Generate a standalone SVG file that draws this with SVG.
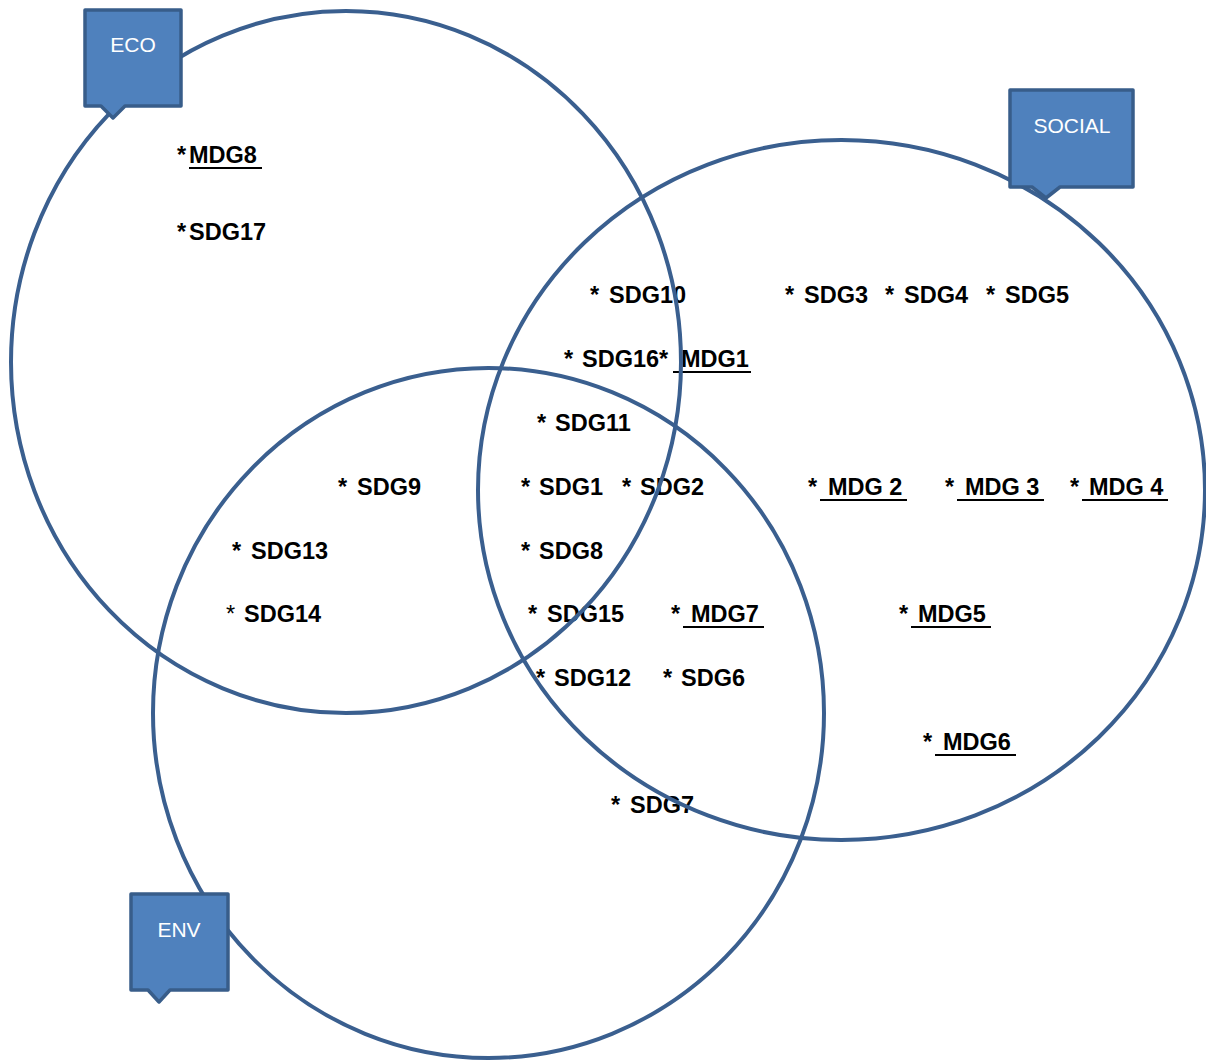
<svg xmlns="http://www.w3.org/2000/svg" width="1206" height="1062" viewBox="0 0 1206 1062">
<style>
  .lbl { font-family: "Liberation Sans", Arial, sans-serif; font-weight: bold; font-size: 23.5px; fill: #000; }
  .ul { stroke: #000; stroke-width: 2; }
  .ring { fill: none; stroke: #3A5F8F; stroke-width: 4; }
  .box { fill: #4F81BD; stroke: #385D8A; stroke-width: 3.5; stroke-linejoin: round; }
  .boxtxt { font-family: "Liberation Sans", Arial, sans-serif; font-size: 21px; fill: #fff; text-anchor: middle; }
</style>
<rect width="1206" height="1062" fill="#fff"/>

<g id="labels">
  <g id="mdg8"><text class="lbl" y="163"><tspan x="177">*</tspan><tspan x="189">MDG8</tspan></text><line class="ul" x1="189" y1="168" x2="262" y2="168"/></g>
  <g id="sdg17"><text class="lbl" y="240"><tspan x="177">*</tspan><tspan x="189">SDG17</tspan></text></g>
  <g id="sdg10"><text class="lbl" y="303"><tspan x="590">*</tspan><tspan x="609">SDG10</tspan></text></g>
  <g id="sdg3"><text class="lbl" y="303"><tspan x="785">*</tspan><tspan x="804">SDG3</tspan></text></g>
  <g id="sdg4"><text class="lbl" y="303"><tspan x="885">*</tspan><tspan x="904">SDG4</tspan></text></g>
  <g id="sdg5"><text class="lbl" y="303"><tspan x="986">*</tspan><tspan x="1005">SDG5</tspan></text></g>
  <g id="sdg16-mdg1"><text class="lbl" y="367"><tspan x="564">*</tspan><tspan x="582">SDG16*</tspan><tspan x="681">MDG1</tspan></text><line class="ul" x1="673" y1="372" x2="751" y2="372"/></g>
  <g id="sdg11"><text class="lbl" y="431"><tspan x="537">*</tspan><tspan x="555">SDG11</tspan></text></g>
  <g id="sdg9"><text class="lbl" y="495"><tspan x="338">*</tspan><tspan x="357">SDG9</tspan></text></g>
  <g id="sdg1"><text class="lbl" y="495"><tspan x="521">*</tspan><tspan x="539">SDG1</tspan></text></g>
  <g id="sdg2"><text class="lbl" y="495"><tspan x="622">*</tspan><tspan x="640">SDG2</tspan></text></g>
  <g id="mdg2"><text class="lbl" y="495"><tspan x="808">*</tspan><tspan x="828">MDG 2</tspan></text><line class="ul" x1="820" y1="500" x2="907" y2="500"/></g>
  <g id="mdg3"><text class="lbl" y="495"><tspan x="945">*</tspan><tspan x="965">MDG 3</tspan></text><line class="ul" x1="957" y1="500" x2="1044" y2="500"/></g>
  <g id="mdg4"><text class="lbl" y="495"><tspan x="1070">*</tspan><tspan x="1089">MDG 4</tspan></text><line class="ul" x1="1082" y1="500" x2="1168" y2="500"/></g>
  <g id="sdg13"><text class="lbl" y="559"><tspan x="232">*</tspan><tspan x="251">SDG13</tspan></text></g>
  <g id="sdg8"><text class="lbl" y="559"><tspan x="521">*</tspan><tspan x="539">SDG8</tspan></text></g>
  <g id="sdg14"><text class="lbl" y="622"><tspan x="226" font-weight="normal">*</tspan><tspan x="244">SDG14</tspan></text></g>
  <g id="sdg15"><text class="lbl" y="622"><tspan x="528">*</tspan><tspan x="547">SDG15</tspan></text></g>
  <g id="mdg7"><text class="lbl" y="622"><tspan x="671">*</tspan><tspan x="691">MDG7</tspan></text><line class="ul" x1="683" y1="627" x2="764" y2="627"/></g>
  <g id="mdg5"><text class="lbl" y="622"><tspan x="899">*</tspan><tspan x="918">MDG5</tspan></text><line class="ul" x1="911" y1="627" x2="991" y2="627"/></g>
  <g id="sdg12"><text class="lbl" y="686"><tspan x="536">*</tspan><tspan x="554">SDG12</tspan></text></g>
  <g id="sdg6"><text class="lbl" y="686"><tspan x="663">*</tspan><tspan x="681">SDG6</tspan></text></g>
  <g id="mdg6"><text class="lbl" y="750"><tspan x="923">*</tspan><tspan x="943">MDG6</tspan></text><line class="ul" x1="935" y1="755" x2="1016" y2="755"/></g>
  <g id="sdg7"><text class="lbl" y="813"><tspan x="611">*</tspan><tspan x="630">SDG7</tspan></text></g>
</g>

<g id="connectors">
  <ellipse id="eco-circle" class="ring" cx="346" cy="362" rx="335" ry="351"/>
  <ellipse id="social-circle" class="ring" cx="841.5" cy="490" rx="363.5" ry="350"/>
  <ellipse id="env-circle" class="ring" cx="488.5" cy="713" rx="335.5" ry="345"/>
</g>

<g id="eco">
  <path class="box" d="M85,10 H181 V106 H125 L113,118 L101,106 H85 Z"/>
  <text class="boxtxt" x="133" y="52">ECO</text>
</g>
<g id="social">
  <path class="box" d="M1010,90 H1133 V187 H1060 L1046,198 L1032,187 H1010 Z"/>
  <text class="boxtxt" x="1072" y="133">SOCIAL</text>
</g>
<g id="env">
  <path class="box" d="M131,894 H228 V990 H170 L159,1002 L148,990 H131 Z"/>
  <text class="boxtxt" x="179" y="937">ENV</text>
</g>
</svg>
